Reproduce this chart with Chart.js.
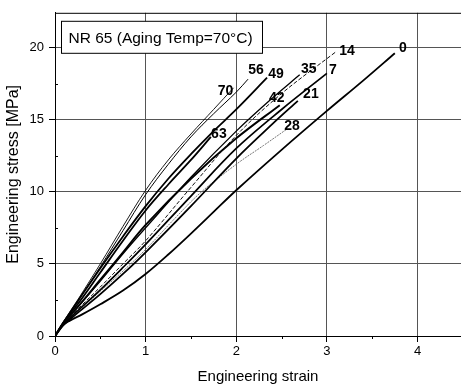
<!DOCTYPE html>
<html>
<head>
<meta charset="utf-8">
<script src="https://cdn.jsdelivr.net/npm/chart.js@4/dist/chart.umd.min.js"></script>
<style>
  html, body { margin: 0; padding: 0; background: #fff; }
  #wrap { width: 461px; height: 387px; }
</style>
</head>
<body>
<div id="wrap"><canvas id="c" width="461" height="387"></canvas></div>
<script>
// ---- Data ----
const seriesNames = ['0', '7', '14', '21', '28', '35', '42', '49', '56', '63', '70'];

const x0  = [0, 0.08, 0.16, 0.3, 0.5, 0.75, 1, 1.25, 1.5, 1.75, 2, 2.5, 3, 3.4, 3.75];
const y0  = [0, 0.7, 1.05, 1.5, 2.2, 3.15, 4.3, 5.65, 7.1, 8.6, 10.1, 12.9, 15.6, 17.7, 19.6];

const x7  = [0, 0.1, 0.25, 0.5, 0.75, 1, 1.5, 2, 2.5, 3.0];
const y7  = [0, 0.85, 1.75, 3.2, 4.75, 6.35, 9.7, 13.0, 15.7, 18.2];

const x14 = [0, 0.1, 0.25, 0.5, 0.75, 1, 1.5, 2, 2.5, 3.1];
const y14 = [0, 0.9, 1.85, 3.4, 5.0, 6.6, 10.3, 13.9, 16.8, 19.7];

const x21 = [0, 0.1, 0.25, 0.5, 0.75, 1, 1.5, 2, 2.4, 2.68];
const y21 = [0, 0.8, 1.6, 2.9, 4.3, 5.8, 9.0, 12.3, 14.7, 16.3];

const x28 = [0, 0.1, 0.25, 0.5, 0.75, 1, 1.3, 1.6, 2, 2.3, 2.55];
const y28 = [0, 0.85, 1.7, 3.1, 4.5, 6.0, 8.0, 9.9, 11.9, 13.2, 14.3];

const x35 = [0, 0.1, 0.25, 0.5, 0.75, 1, 1.5, 2, 2.4, 2.7];
const y35 = [0, 0.95, 2.0, 3.8, 5.7, 7.5, 11.0, 14.2, 16.5, 18.1];

const x42 = [0, 0.1, 0.25, 0.5, 0.75, 1, 1.5, 2, 2.48];
const y42 = [0, 0.95, 2.0, 3.9, 5.8, 7.7, 10.9, 13.7, 16.0];

const x49 = [0, 0.1, 0.25, 0.5, 0.75, 1, 1.25, 1.5, 1.75, 2, 2.34];
const y49 = [0, 1.0, 2.4, 4.7, 6.9, 9.0, 10.9, 12.6, 14.2, 15.7, 17.9];

const x56 = [0, 0.1, 0.25, 0.5, 0.75, 1, 1.25, 1.5, 1.75, 2, 2.13];
const y56 = [0, 1.0, 2.4, 4.8, 7.3, 9.8, 11.9, 13.8, 15.4, 16.9, 17.8];

const x63 = [0, 0.1, 0.25, 0.5, 0.75, 1, 1.25, 1.5, 1.72];
const y63 = [0, 1.0, 2.2, 4.4, 6.6, 8.7, 10.5, 12.2, 13.8];

const x70 = [0, 0.1, 0.25, 0.5, 0.75, 1, 1.25, 1.5, 1.75, 1.97];
const y70 = [0, 1.05, 2.5, 5.0, 7.6, 10.1, 12.2, 14.0, 15.7, 17.2];

const xTicks = [0, 1, 2, 3, 4];
const yTicks = [0, 5, 10, 15, 20];
const xMinor = [0.5, 1.5, 2.5, 3.5];
const yMinor = [2.5, 7.5, 12.5, 17.5];

const legendText = 'NR 65 (Aging Temp=70°C)';
const xTitle = 'Engineering strain';
const yTitle = 'Engineering stress [MPa]';

// ---- Build ----
const xs = { '0': x0, '7': x7, '14': x14, '21': x21, '28': x28, '35': x35, '42': x42, '49': x49, '56': x56, '63': x63, '70': x70 };
const ys = { '0': y0, '7': y7, '14': y14, '21': y21, '28': y28, '35': y35, '42': y42, '49': y49, '56': y56, '63': y63, '70': y70 };

const styles = {
  '0':  { w: 1.8, c: '#000', dash: [] },
  '7':  { w: 1.7, c: '#000', dash: [] },
  '14': { w: 1.0, c: '#111', dash: [4, 2] },
  '21': { w: 1.8, c: '#000', dash: [] },
  '28': { w: 0.9, c: '#666', dash: [2, 1] },
  '35': { w: 1.3, c: '#000', dash: [] },
  '42': { w: 1.9, c: '#000', dash: [] },
  '49': { w: 1.8, c: '#000', dash: [] },
  '56': { w: 1.0, c: '#000', dash: [] },
  '63': { w: 1.8, c: '#000', dash: [] },
  '70': { w: 0.9, c: '#000', dash: [] }
};

// pixel offsets of the end labels from the last point of each curve
const labelOffsets = {
  '0': [8, -5], '7': [6, -3], '14': [11, -1], '21': [13, -7], '28': [6, -4],
  '35': [9, -6], '42': [-3, -7], '49': [9, -4], '56': [8, -9], '63': [8, -3], '70': [-8, 3]
};

const datasets = seriesNames.map(n => ({
  label: n,
  data: xs[n].map((x, i) => ({ x: x, y: ys[n][i] })),
  showLine: true,
  borderColor: styles[n].c,
  borderWidth: styles[n].w,
  borderDash: styles[n].dash,
  pointRadius: 0,
  fill: false,
  tension: 0.35
}));

const FONT = "'Liberation Sans', Arial, sans-serif";

const decorations = {
  id: 'decorations',
  afterDatasetsDraw(chart) {
    const ctx = chart.ctx;
    const a = chart.chartArea;
    const sx = chart.scales.x, sy = chart.scales.y;
    ctx.save();
    // top frame line
    ctx.strokeStyle = '#000';
    ctx.lineWidth = 1;
    ctx.beginPath();
    ctx.moveTo(a.left, a.top + 0.5);
    ctx.lineTo(a.right, a.top + 0.5);
    ctx.stroke();
    // minor ticks
    ctx.beginPath();
    xMinor.forEach(v => {
      const px = Math.round(sx.getPixelForValue(v)) + 0.5;
      ctx.moveTo(px, a.bottom);
      ctx.lineTo(px, a.bottom + 3);
    });
    yMinor.forEach(v => {
      const py = Math.round(sy.getPixelForValue(v)) + 0.5;
      ctx.moveTo(a.left, py);
      ctx.lineTo(a.left + 3, py);
    });
    ctx.stroke();

    // curve end labels
    ctx.fillStyle = '#000';
    ctx.font = 'bold 14px ' + FONT;
    ctx.textAlign = 'center';
    ctx.textBaseline = 'middle';
    chart.data.datasets.forEach((ds, i) => {
      const meta = chart.getDatasetMeta(i);
      const last = meta.data[meta.data.length - 1];
      const off = labelOffsets[ds.label];
      ctx.fillText(ds.label, last.x + off[0], last.y + off[1]);
    });

    // legend box
    const bx = a.left + 6.5, by = a.top + 8.5, bw = 201, bh = 32;
    ctx.fillStyle = '#fff';
    ctx.fillRect(bx, by, bw, bh);
    ctx.strokeStyle = '#000';
    ctx.lineWidth = 1;
    ctx.strokeRect(bx, by, bw, bh);
    ctx.fillStyle = '#000';
    ctx.font = '15.5px ' + FONT;
    ctx.textAlign = 'left';
    ctx.textBaseline = 'middle';
    ctx.fillText(legendText, bx + 7, by + bh / 2 + 1);
    ctx.restore();
  }
};

new Chart(document.getElementById('c'), {
  type: 'scatter',
  data: { datasets: datasets },
  plugins: [decorations],
  options: {
    responsive: false,
    animation: false,
    layout: { padding: { top: 7, right: 0, left: 0, bottom: 0 } },
    plugins: { legend: { display: false }, tooltip: { enabled: false } },
    scales: {
      x: {
        type: 'linear',
        min: 0,
        max: 4.48,
        afterFit(scale) { scale.height = 51; },
        afterBuildTicks(scale) { scale.ticks = xTicks.map(v => ({ value: v })); },
        grid: { color: '#555', lineWidth: 1, tickLength: 6, tickColor: '#000' },
        border: { display: true, color: '#000', width: 1 },
        ticks: { color: '#000', padding: 2, maxRotation: 0, font: { size: 13, family: FONT } },
        title: { display: true, text: xTitle, color: '#000', font: { size: 15, family: FONT }, padding: { top: 0, bottom: 1 } }
      },
      y: {
        type: 'linear',
        min: 0,
        max: 22.4,
        afterFit(scale) { scale.width = 55; },
        afterBuildTicks(scale) { scale.ticks = yTicks.map(v => ({ value: v })); },
        grid: { color: '#555', lineWidth: 1, tickLength: 6, tickColor: '#000' },
        border: { display: true, color: '#000', width: 1 },
        ticks: { color: '#000', padding: 5, font: { size: 13, family: FONT } },
        title: { display: true, text: yTitle, color: '#000', font: { size: 16, family: FONT }, padding: { top: 4, bottom: 0 } }
      }
    }
  }
});
</script>
</body>
</html>
